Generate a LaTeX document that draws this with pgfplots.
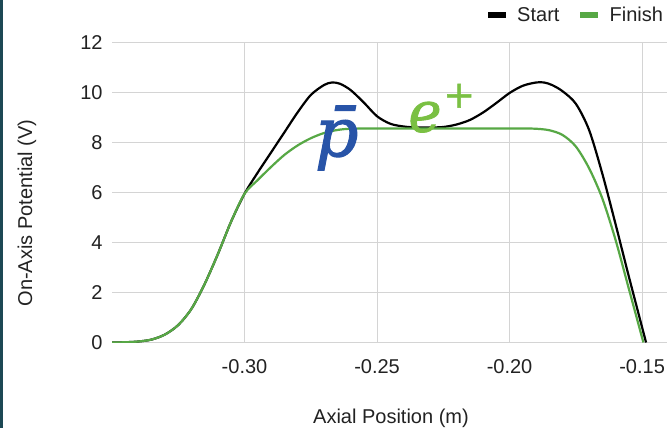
\documentclass[border=0pt]{standalone}
\usepackage{fontspec}
\setmainfont{Liberation Sans}
\newfontface\pfont{DejaVu Serif Italic}[FakeBold=1.5]
\newfontface\plusfont{DejaVu Serif}[FakeBold=1.5]
\usepackage{pgfplots}
\pgfplotsset{compat=1.18}
\definecolor{finishgreen}{RGB}{87,168,69}
\definecolor{pbarblue}{RGB}{40,84,168}
\definecolor{epgreen}{RGB}{122,192,67}
\definecolor{borderteal}{RGB}{28,72,84}
\definecolor{txt}{RGB}{34,34,34}
\begin{document}
\begin{tikzpicture}
\fill[white] (0bp,0bp) rectangle (667bp,428bp);
\useasboundingbox (0bp,0bp) rectangle (667bp,428bp);
\begin{axis}[
  at={(112bp,85.5bp)}, anchor=south west, scale only axis,
  width=555bp, height=300bp,
  xmin=-0.35, xmax=-0.1406, ymin=0, ymax=12,
  axis line style={draw=none},
  xtick={-0.30,-0.25,-0.20,-0.15},
  xticklabels={-0.30,-0.25,-0.20,-0.15},
  ytick={2,4,6,8,10,12},
  yticklabels={2,4,6,8,10,12},
  extra y ticks={0}, extra y tick labels={0},
  extra y tick style={grid style={black!60, line width=1bp}},
  grid=major, major grid style={black!17, line width=1bp},
  major tick length=0pt,
  tick label style={font=\fontsize{20bp}{24bp}\selectfont, text=txt},
  xticklabel style={anchor=north, inner sep=0pt, yshift=-17bp},
  yticklabel style={anchor=east, inner sep=0pt, xshift=-9.3bp},
  xlabel={Axial Position (m)},
  ylabel={On-Axis Potential (V)},
  label style={font=\fontsize{20bp}{24bp}\selectfont, text=txt, inner sep=0pt},
  xlabel style={at={(axis description cs:0.5027,-0.2693)}, anchor=base},
  ylabel style={at={(axis description cs:-0.1532,0.4317)}, anchor=center},
  legend columns=2,
  legend style={at={(axis description cs:0.677,1.0917)}, anchor=west,
    draw=none, fill=none, inner sep=0pt, outer sep=0pt,
    font=\fontsize{20bp}{24bp}\selectfont, text=txt,
    nodes={inner sep=0pt},
    /tikz/every odd column/.append style={column sep=11.7bp},
    /tikz/every even column/.append style={column sep=20.7bp}},
  legend image code/.code={\fill (0bp,-2.3bp) rectangle (15.6bp,2.3bp);},
]
\addplot[black, line width=2.2bp, smooth, tension=0.5] coordinates {
(-0.350,0.00) (-0.345,0.01) (-0.340,0.04) (-0.335,0.12) (-0.330,0.32)
(-0.325,0.70) (-0.320,1.35) (-0.315,2.35) (-0.310,3.55) (-0.305,4.85)
(-0.300,5.95) (-0.295,6.80) (-0.290,7.60) (-0.285,8.40) (-0.280,9.20)
(-0.275,9.90) (-0.270,10.30) (-0.267,10.40) (-0.264,10.35) (-0.260,10.10)
(-0.255,9.60) (-0.250,9.05) (-0.245,8.75) (-0.240,8.64) (-0.235,8.60)
(-0.230,8.60) (-0.225,8.62) (-0.220,8.72) (-0.215,8.90) (-0.210,9.20)
(-0.205,9.58) (-0.200,9.98) (-0.195,10.27) (-0.190,10.40) (-0.187,10.40)
(-0.184,10.30) (-0.180,10.05) (-0.175,9.55) (-0.170,8.50) (-0.165,6.75)
(-0.160,4.73) (-0.155,2.64) (-0.1485,0.00)
};
\addlegendentry{Start}
\addplot[finishgreen, line width=2.2bp, smooth, tension=0.5] coordinates {
(-0.350,0.00) (-0.345,0.01) (-0.340,0.04) (-0.335,0.12) (-0.330,0.32)
(-0.325,0.70) (-0.320,1.35) (-0.315,2.35) (-0.310,3.55) (-0.305,4.85)
(-0.300,5.95) (-0.295,6.50) (-0.290,7.02) (-0.285,7.50) (-0.280,7.88)
(-0.275,8.17) (-0.270,8.38) (-0.265,8.50) (-0.260,8.55) (-0.250,8.56)
(-0.230,8.56) (-0.210,8.56) (-0.195,8.56) (-0.190,8.55) (-0.185,8.49)
(-0.180,8.30) (-0.175,7.84) (-0.170,6.97) (-0.165,5.76) (-0.160,4.10)
(-0.155,2.15) (-0.1495,0.00)
};
\addlegendentry{Finish}
\node[pbarblue, inner sep=0pt, font=\pfont\fontsize{68bp}{74bp}\selectfont] at (axis cs:-0.2652,8.18) {p^^^^0304};
\node[epgreen, inner sep=0pt, anchor=base, font=\pfont\fontsize{56bp}{60bp}\selectfont] at (axis cs:-0.2319,8.432) {e};
\node[epgreen, inner sep=0pt, font=\plusfont\fontsize{38bp}{42bp}\selectfont] at (axis cs:-0.2190,9.868) {+};
\end{axis}
\fill[borderteal] (0bp,0bp) rectangle (2.5bp,428bp);
\end{tikzpicture}
\end{document}
